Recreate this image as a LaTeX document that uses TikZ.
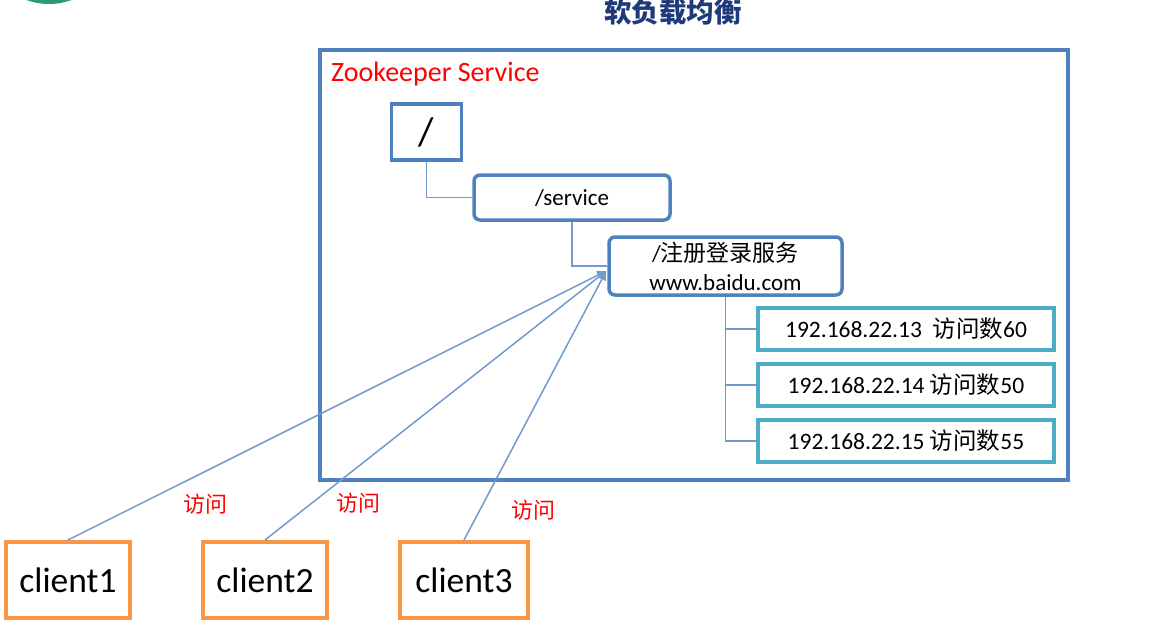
\documentclass[tikz,border=0pt]{standalone}
\usepackage{fontspec}
\setmainfont{Carlito}
\newfontfamily\cjk{Noto Sans CJK SC}
\usetikzlibrary{arrows.meta, positioning}
\definecolor{zkblue}{HTML}{4F81BD}
\definecolor{linkblue}{HTML}{729ACF}
\definecolor{ipteal}{HTML}{4BACC6}
\definecolor{clorange}{HTML}{F79646}
\definecolor{titlenavy}{HTML}{1F3A7A}
\definecolor{logogreen}{HTML}{2A9A7A}

\begin{document}
\begin{tikzpicture}[x=1pt, y=-1pt,
    zknode/.style={rectangle, draw=zkblue, line width=3.5pt, rounded corners=6pt,
                   fill=white, inner sep=0pt, align=center},
    ipbox/.style={rectangle, draw=ipteal, line width=3.5pt, minimum width=296pt,
                  minimum height=42pt, inner sep=0pt, font=\fontsize{23.5}{24}\selectfont},
    clientbox/.style={rectangle, draw=clorange, line width=4pt, minimum width=124pt,
                      minimum height=76pt, inner sep=0pt, font=\fontsize{35.5}{36}\selectfont},
    tree/.style={draw=linkblue, line width=1.5pt},
    arr/.style={-{Triangle[length=9pt, width=8pt]}, draw=linkblue, line width=1.5pt},
    visit/.style={text=red, font=\cjk\fontsize{22}{24}\selectfont}
]
\clip (0,0) rectangle (1174,624);
\fill[logogreen] (49,-61) circle (65);

\node[font=\cjk\bfseries\fontsize{27.5}{28}\selectfont, text=titlenavy] (title) at (673,12) {软负载均衡};

% zookeeper frame
\node[draw=zkblue, line width=3.5pt, minimum width=748pt, minimum height=430pt,
      anchor=north west, inner sep=0pt] (zk) at (318,48) {};
\node[anchor=north west, text=red, inner sep=0pt, font=\fontsize{28}{28}\selectfont]
      (zklabel) at ([shift={(13,14)}]zk.north west) {Zookeeper Service};

% znode tree
\node[zknode, rounded corners=0pt, minimum width=70pt, minimum height=56pt,
      font=\fontsize{40}{40}\selectfont] (root) at (426.5,132) {/};
\node[zknode, minimum width=196pt, minimum height=45pt,
      font=\fontsize{23}{24}\selectfont] (svc) at (572,197.5) {/service};
\node[zknode, minimum width=233pt, minimum height=58pt,
      font=\fontsize{23}{29}\selectfont] (login) at (725.5,266) {/{\cjk 注册登录服务}\\www.baidu.com};

\node[ipbox] (ip1) at (906,329) {192.168.22.13\ \ {\cjk 访问数}60};
\node[ipbox, below=10.5pt of ip1] (ip2) {192.168.22.14 {\cjk 访问数}50};
\node[ipbox, below=10.5pt of ip2] (ip3) {192.168.22.15 {\cjk 访问数}55};

\draw[tree] (root.south) |- (svc.west);
\draw[tree] (svc.south) |- (login.west);
\draw[tree] (login.south) |- (ip3.west);
\draw[tree] (login.south |- ip1.west) -- (ip1.west);
\draw[tree] (login.south |- ip2.west) -- (ip2.west);

% clients
\node[clientbox] (c1) at (68,580) {client1};
\node[clientbox, right=69pt of c1] (c2) {client2};
\node[clientbox, right=69pt of c2, minimum width=128pt] (c3) {client3};

\coordinate (hub) at ([shift={(-1,5)}]login.west);
\draw[arr] (c1.north) -- (hub);
\draw[arr] (c2.north) -- (hub);
\draw[arr] (c3.north) -- (hub);

\node[visit] (v1) at (205,504) {访问};
\node[visit] (v2) at (358,503) {访问};
\node[visit] (v3) at (533,510) {访问};
\end{tikzpicture}
\end{document}
